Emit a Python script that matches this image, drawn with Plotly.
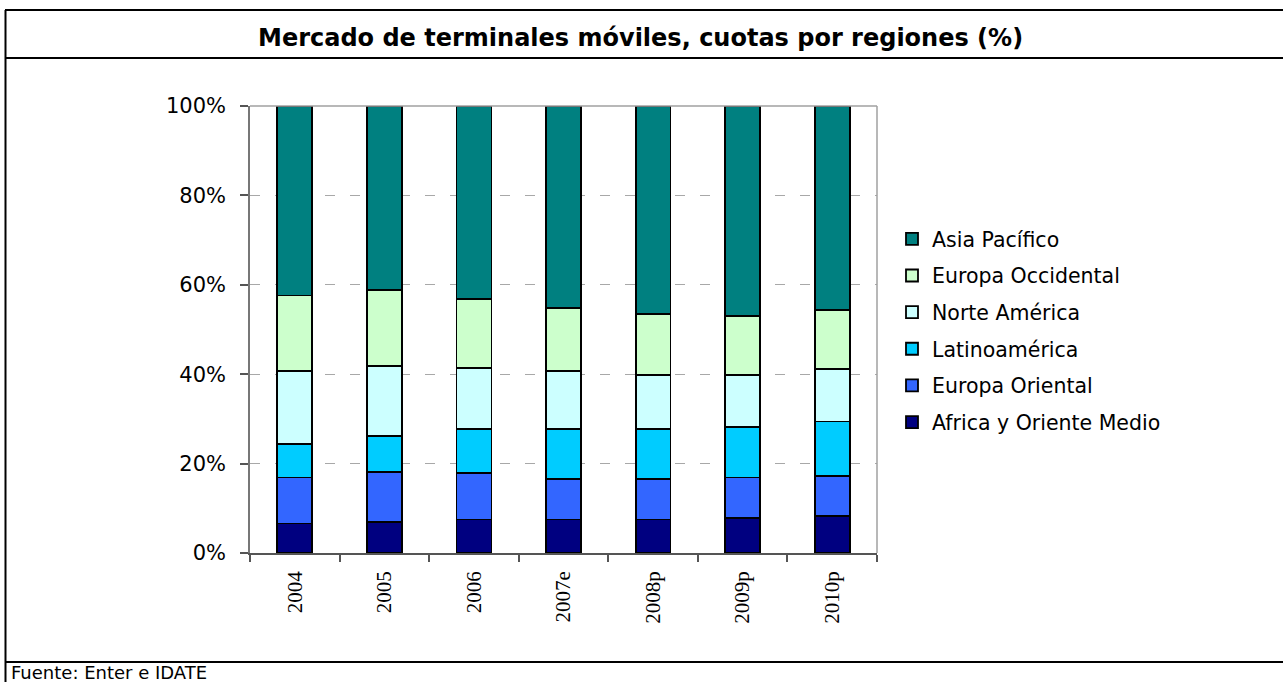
import plotly.graph_objects as go

years = ["2004", "2005", "2006", "2007e", "2008p", "2009p", "2010p"]
africa = [6.6, 7.0, 7.5, 7.5, 7.5, 7.8, 8.2]
europa_oriental = [10.3, 11.2, 10.4, 9.0, 9.0, 9.1, 9.1]
latinoamerica = [7.5, 7.9, 9.8, 11.2, 11.2, 11.2, 12.1]
norte_america = [16.3, 15.8, 13.7, 13.0, 12.1, 11.7, 11.7]
europa_occidental = [16.9, 17.0, 15.4, 14.1, 13.7, 13.2, 13.2]
asia_pacifico = [42.4, 41.1, 43.2, 45.2, 46.5, 47.0, 45.7]

series = [
    ("Africa y Oriente Medio", africa, "#000080"),
    ("Europa Oriental", europa_oriental, "#3366FF"),
    ("Latinoamérica", latinoamerica, "#00CCFF"),
    ("Norte América", norte_america, "#CCFFFF"),
    ("Europa Occidental", europa_occidental, "#CCFFCC"),
    ("Asia Pacífico", asia_pacifico, "#008080"),
]

W, H = 1283, 682
L, R, T, B = 250, 877, 106, 553
SANS = "DejaVu Sans, Arial, sans-serif"

fig = go.Figure()
n = len(series)
for i, (name, vals, col) in enumerate(series):
    fig.add_trace(go.Bar(
        x=years, y=vals, name=name, legendgroup=name, legendrank=n - i,
        marker=dict(color=col, line=dict(color="black", width=1.8)),
    ))

def px_x(p):
    return (p - L) / (R - L)

def px_y(p):
    return (B - p) / (B - T)

shapes = []
lw = 2
for yy in (10, 58, 662):
    shapes.append(dict(type="line", xref="paper", yref="paper",
                       x0=px_x(5), x1=px_x(1290), y0=px_y(yy), y1=px_y(yy),
                       line=dict(color="black", width=lw)))
shapes.append(dict(type="line", xref="paper", yref="paper",
                   x0=px_x(5.5), x1=px_x(5.5), y0=px_y(10), y1=px_y(690),
                   line=dict(color="black", width=lw)))
# plot-area top and right border (gray)
shapes.append(dict(type="line", xref="paper", yref="paper", x0=0, x1=1, y0=1, y1=1,
                   line=dict(color="#A0A0A0", width=1.5)))
shapes.append(dict(type="line", xref="paper", yref="paper", x0=1, x1=1, y0=0, y1=1,
                   line=dict(color="#A0A0A0", width=1.5)))

fig.update_layout(
    width=W, height=H,
    margin=dict(l=L, r=W - R, t=T, b=H - B, pad=0),
    barmode="stack",
    bargap=0.61,
    plot_bgcolor="white",
    paper_bgcolor="white",
    font=dict(family=SANS, size=20, color="black"),
    showlegend=True,
    legend=dict(
        x=px_x(892), y=px_y(219), xanchor="left", yanchor="top",
        traceorder="grouped", tracegroupgap=7,
        font=dict(size=20.5, family=SANS),
        bgcolor="rgba(0,0,0,0)",
    ),
    shapes=shapes,
    annotations=[
        dict(text="<b>Mercado de terminales móviles, cuotas por regiones (%)</b>",
             xref="paper", yref="paper", x=px_x(640), y=px_y(38),
             xanchor="center", yanchor="middle", showarrow=False,
             font=dict(size=24, family=SANS)),
        dict(text="Fuente: Enter e IDATE",
             xref="paper", yref="paper", x=px_x(9), y=px_y(672),
             xanchor="left", yanchor="middle", showarrow=False,
             font=dict(size=18, family=SANS)),
    ],
    xaxis=dict(
        type="category",
        showline=True, linecolor="#555555", linewidth=1.5, mirror=False,
        ticks="outside", ticklen=7, tickcolor="#555555", tickwidth=1.5,
        tickson="boundaries",
        tickangle=-90,
        ticklabelstandoff=8,
        tickfont=dict(family="Liberation Serif, Times New Roman, serif", size=21),
        showgrid=False,
    ),
    yaxis=dict(
        range=[0, 100],
        tickvals=[0, 20, 40, 60, 80, 100],
        ticktext=["0%", "20%", "40%", "60%", "80%", "100%"],
        showline=True, linecolor="#777777", linewidth=1.5, mirror=False,
        ticks="outside", ticklen=8, tickcolor="#555555", tickwidth=1.5,
        ticklabelstandoff=10,
        showgrid=True, gridcolor="#A8A8A8", gridwidth=1.2, griddash="10px,15px",
        zeroline=False,
        tickfont=dict(size=21, family=SANS),
    ),
)

fig.write_html("out.html", config={"displayModeBar": False},
               post_script="document.body.style.margin='0';document.body.style.overflow='hidden';")
